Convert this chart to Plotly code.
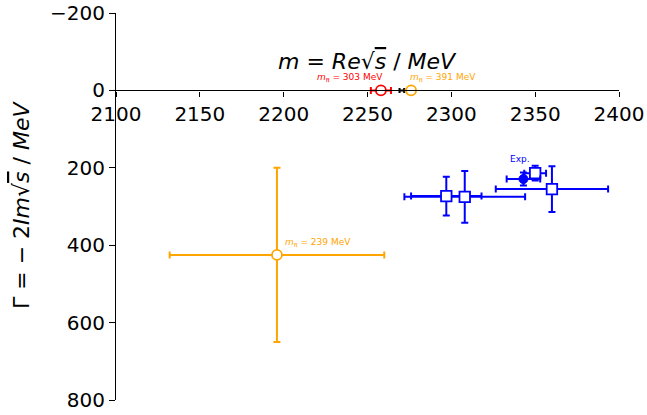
import plotly.graph_objects as go

# ---- data (MeV) ----
blue_x = [2297, 2308, 2360, 2350]
blue_xerr = [21, 36, 33.5, 6.5]
blue_y = [273, 275, 255, 214]
blue_yerr = [50, 67, 59, 19]

exp_x = [2343]
exp_xerr = [10]
exp_y = [229]
exp_yerr = [17]

orange_x = [2196]
orange_xerr = [64]
orange_y = [425]
orange_yerr = [225]

red_x = [2258]
red_xerr = [6]
red_y = [0]

orange0_x = [2276]
orange0_xerr_minus = [4]
orange0_xerr_plus = [0]
orange0_y = [0]

black_x = [2270.5]
black_xerr = [1.4]
black_y = [0]

x_ticks = [2100, 2150, 2200, 2250, 2300, 2350, 2400]
y_ticks = [-200, 0, 200, 400, 600, 800]

BLUE = "#0000ff"
ORANGE = "#ffa500"
RED = "#ff0000"
FONT = "DejaVu Sans"

fig = go.Figure()

def eb(arr, color, width=3.5, minus=None):
    d = dict(type="data", array=arr, color=color, thickness=2, width=width, visible=True)
    if minus is not None:
        d["symmetric"] = False
        d["arrayminus"] = minus
    return d

fig.add_trace(go.Scatter(
    x=orange_x, y=orange_y, mode="markers",
    error_x=eb(orange_xerr, ORANGE), error_y=eb(orange_yerr, ORANGE),
    marker=dict(symbol="circle", size=10, color="white", line=dict(color=ORANGE, width=1.8)),
    showlegend=False))

fig.add_trace(go.Scatter(
    x=blue_x, y=blue_y, mode="markers",
    error_x=eb(blue_xerr, BLUE), error_y=eb(blue_yerr, BLUE),
    marker=dict(symbol="square", size=10.5, color="white", line=dict(color=BLUE, width=1.8)),
    showlegend=False))

fig.add_trace(go.Scatter(
    x=exp_x, y=exp_y, mode="markers",
    error_x=eb(exp_xerr, BLUE), error_y=eb(exp_yerr, BLUE),
    marker=dict(symbol="circle", size=9, color=BLUE, line=dict(color=BLUE, width=1)),
    showlegend=False))

fig.add_trace(go.Scatter(
    x=black_x, y=black_y, mode="markers",
    error_x=dict(type="data", array=black_xerr, color="black", thickness=2, width=2.5),
    marker=dict(size=1, color="black"),
    showlegend=False))

fig.add_trace(go.Scatter(
    x=orange0_x, y=orange0_y, mode="markers",
    error_x=eb(orange0_xerr_plus, ORANGE, width=0, minus=orange0_xerr_minus),
    marker=dict(symbol="circle", size=10, color="white", line=dict(color=ORANGE, width=1.8)),
    showlegend=False))

fig.add_trace(go.Scatter(
    x=red_x, y=red_y, mode="markers",
    error_x=eb(red_xerr, RED),
    marker=dict(symbol="circle", size=10, color="white", line=dict(color=RED, width=1.8)),
    showlegend=False))

anns = [
    dict(x=2239.5, y=-34, text="<i>m</i><sub>π</sub> = 303 MeV", font=dict(color=RED, size=9, family=FONT),
         xanchor="center", yanchor="middle"),
    dict(x=2295, y=-34, text="<i>m</i><sub>π</sub> = 391 MeV", font=dict(color=ORANGE, size=9, family=FONT),
         xanchor="center", yanchor="middle"),
    dict(x=2199.5, y=394, text="<i>m</i><sub>π</sub> = 239 MeV", font=dict(color=ORANGE, size=9, family=FONT),
         xanchor="left", yanchor="middle"),
    dict(x=2341, y=177, text="Exp.", font=dict(color=BLUE, size=9, family=FONT),
         xanchor="center", yanchor="middle"),
]
for a in anns:
    a.update(xref="x", yref="y", showarrow=False)
    fig.add_annotation(**a)

fig.add_annotation(
    xref="paper", yref="paper", x=0.5, y=(400 - 61) / 387,
    text="<i>m</i> = <i>Re</i>√<span style='text-decoration:overline'><i>s</i></span> / <i>MeV</i>",
    showarrow=False, font=dict(size=22, family=FONT, color="black"),
    xanchor="center", yanchor="middle")

fig.add_annotation(
    xref="paper", yref="paper", x=(21 - 116) / 503, y=(400 - 205) / 387,
    text="Γ = − 2<i>Im</i>√<span style='text-decoration:overline'><i>s</i></span> / <i>MeV</i>",
    showarrow=False, textangle=-90, font=dict(size=22, family=FONT, color="black"),
    xanchor="center", yanchor="middle")

fig.update_layout(
    width=647, height=415,
    margin=dict(l=116, r=28, t=13, b=15, autoexpand=False),
    paper_bgcolor="white", plot_bgcolor="white",
    font=dict(family=FONT, size=20, color="black"),
    xaxis=dict(range=[2100, 2400], tickvals=x_ticks, ticktext=[str(v) for v in x_ticks],
               anchor="free", position=0.8, side="bottom",
               showline=True, linecolor="black", linewidth=1.2,
               ticks="outside", ticklen=5, tickwidth=1.2, tickcolor="black",
               showgrid=False, zeroline=False, tickfont=dict(size=20, family=FONT)),
    yaxis=dict(range=[800, -200], tickvals=y_ticks,
               showline=True, linecolor="black", linewidth=1.2,
               ticks="outside", ticklen=6, tickwidth=1.2, tickcolor="black",
               showgrid=False, zeroline=False, tickfont=dict(size=20, family=FONT)),
)

fig.write_html("out.html", config={"displayModeBar": False},
               post_script="document.body.style.margin='0px';document.body.style.overflow='hidden';")
